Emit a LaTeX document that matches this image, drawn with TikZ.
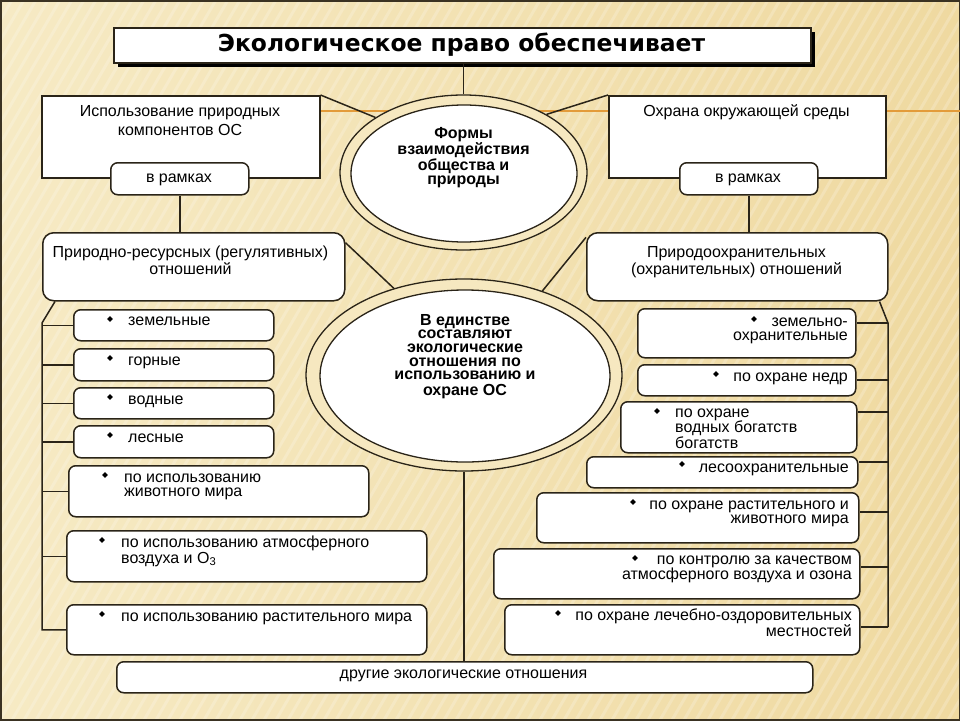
\documentclass[tikz,border=0pt]{standalone}
\usepackage{fontspec}
\setmainfont{Liberation Sans}
\newfontfamily\ttlfont{DejaVu Sans}
\usetikzlibrary{shapes.geometric,shadows,calc}
\definecolor{bgA}{HTML}{F6EAC4}
\definecolor{bgB}{HTML}{EFD9A0}
\definecolor{ringc}{HTML}{F6E8C0}
\definecolor{lc}{HTML}{2A2418}
\definecolor{orangeline}{HTML}{E39B3A}
\definecolor{framec}{HTML}{3A3222}
\newcommand\mlines[2]{\begin{tabular}[t]{@{}#1@{}}#2\end{tabular}}
\begin{document}
\begin{tikzpicture}[x=1pt,y=-1pt,
  sq/.style={draw=lc, line width=1.5pt, fill=white, inner sep=0pt, anchor=north west},
  rbox/.style={sq, rounded corners=7pt},
  bigr/.style={sq, rounded corners=11pt},
  ell/.style={ellipse, draw=lc, line width=1.3pt, inner sep=0pt},
  conn/.style={draw=lc, line width=1.5pt},
  txt/.style={inner sep=0pt, font=\fontsize{16}{14}\selectfont},
  btxt/.style={inner sep=0pt, font=\bfseries\fontsize{16}{14}\selectfont},
  bul/.style={diamond, fill=black, inner sep=0pt, minimum size=6pt}]
\useasboundingbox (0,0) rectangle (960,720);
% background
\shade[left color=bgA, right color=bgB] (0,0) rectangle (960,720);
\begin{scope}
\clip (0,0) rectangle (960,720);
\foreach \i in {-420,-408,...,960} \draw[white, opacity=0.2, line width=3pt] (\i,720) -- (\i+420,0);
\end{scope}
\draw[framec, line width=3pt] (0,0) rectangle (960,720);
\draw[orangeline, line width=2pt] (300,111) -- (960,111);

% title
\node[sq, line width=2pt, minimum width=697pt, minimum height=35pt,
  drop shadow={shadow xshift=4pt, shadow yshift=-4pt, fill=black, opacity=1}] (title) at (113,27) {};
\node[inner sep=0pt, anchor=base, font=\ttlfont\bfseries\fontsize{23.4}{24}\selectfont] (titletext) at (461.5,51) {Экологическое право обеспечивает};

% upper boxes
\node[sq, minimum width=278pt, minimum height=82pt] (lb1) at (41,95) {};
\node[sq, minimum width=277pt, minimum height=82pt] (rb1) at (608,95) {};
\node[rbox, minimum width=138pt, minimum height=32pt] (lr) at (110,162) {};
\node[rbox, minimum width=138pt, minimum height=32pt] (rr) at (679,162) {};

% ellipse 1
\node[ell, fill=ringc, minimum width=247pt, minimum height=155pt] (e1o) at (463.5,172.5) {};
\node[ell, fill=white, minimum width=226pt, minimum height=137pt] (e1i) at (464,173.5) {};

% relation boxes
\node[bigr, minimum width=302pt, minimum height=68pt] (lb2) at (42,232) {};
\node[bigr, minimum width=301pt, minimum height=68pt] (rb2) at (586,232) {};

% ellipse 2
\node[ell, fill=ringc, minimum width=316pt, minimum height=192pt] (e2o) at (464,375) {};
\node[ell, fill=white, minimum width=290pt, minimum height=172pt] (e2i) at (465,376) {};

% left items
\node[rbox, minimum width=200pt, minimum height=31pt] (li1) at (73,309) {};
\node[rbox, minimum width=200pt, minimum height=32pt] (li2) at (73,348) {};
\node[rbox, minimum width=200pt, minimum height=31pt] (li3) at (73,387) {};
\node[rbox, minimum width=200pt, minimum height=32pt] (li4) at (73,425) {};
\node[rbox, minimum width=300pt, minimum height=51pt] (li5) at (68,465) {};
\node[rbox, minimum width=360pt, minimum height=51pt] (li6) at (66,530) {};
\node[rbox, minimum width=360pt, minimum height=50pt] (li7) at (66,604) {};

% right items
\node[rbox, minimum width=218pt, minimum height=49pt] (ri1) at (637,308) {};
\node[rbox, minimum width=218pt, minimum height=31pt] (ri2) at (637,364) {};
\node[rbox, minimum width=236pt, minimum height=51pt] (ri3) at (620,401) {};
\node[rbox, minimum width=271pt, minimum height=31pt] (ri4) at (586,456) {};
\node[rbox, minimum width=322pt, minimum height=50pt] (ri5) at (536,492) {};
\node[rbox, minimum width=366pt, minimum height=50pt] (ri6) at (493,548) {};
\node[rbox, minimum width=355pt, minimum height=50pt] (ri7) at (504,604) {};

% bottom box
\node[rbox, minimum width=696pt, minimum height=31pt] (oth) at (116,661) {};

% connectors
\draw[conn] (e1o.north) -- (e1o.north |- title.south);
\draw[conn] (lb1.north east) -- (e1o.148);
\draw[conn] (rb1.north west) -- (e1o.35);
\draw[conn] (lr.south) -- (lr.south |- lb2.north);
\draw[conn] (rr.south) -- (rr.south |- rb2.north);
\draw[conn] (lb2.9) -- (e2o.129);
\draw[conn] (rb2.169) -- (e2o.47);
\draw[conn] (e2o.south) -- (e2o.south |- oth.north);

\coordinate (lbt) at (42,323);
\draw[conn] ($(lb2.south west)+(13,0)$) -- (lbt) -- (lbt |- li7.west) -- (li7.west);
\foreach \k in {1,...,6} \draw[conn] (li\k.west) -- (li\k.west -| lbt);

\coordinate (rk1) at (888,323);
\coordinate (rk2) at (888,380);
\coordinate (rk3) at (888,412);
\coordinate (rk4) at (888,462);
\coordinate (rk5) at (888,512);
\coordinate (rk6) at (888,567);
\coordinate (rk7) at (888,627);
\draw[conn] ($(rb2.south east)+(-9,0)$) -- (rk1) -- (rk7);
\foreach \k in {1,...,7} \draw[conn] (rk\k) -- (rk\k -| ri\k.east);

% texts of upper boxes
\node[txt, anchor=base, font=\fontsize{16}{19}\selectfont] (lb1t) at (180,116) {\mlines{c}{Использование природных\\компонентов ОС}};
\node[txt, anchor=base] (rb1t) at (746.5,116) {Охрана окружающей среды};
\node[txt, anchor=base] (lrt) at (179,182) {в рамках};
\node[txt, anchor=base] (rrt) at (748,182) {в рамках};
\node[txt, anchor=base, font=\fontsize{16}{17}\selectfont] (lb2t) at (190.5,257) {\mlines{c}{Природно-ресурсных (регулятивных)\\отношений}};
\node[txt, anchor=base, font=\fontsize{16}{17}\selectfont] (rb2t) at (736.5,257) {\mlines{c}{Природоохранительных\\(охранительных) отношений}};

% ellipse texts
\node[btxt, anchor=base] (e1t) at (463.5,138) {\mlines{c}{Формы\\взаимодействия\\общества и\\природы}};
\node[btxt, anchor=base, font=\bfseries\fontsize{16}{13.7}\selectfont] (e2t) at (465,325) {\mlines{c}{В единстве\\составляют\\экологические\\отношения по\\использованию и\\охране ОС}};

% left item texts
\node[bul] (bl1) at (110,319) {};
\node[txt, anchor=base west] (tl1) at (128,325) {земельные};
\node[bul] (bl2) at (110,358) {};
\node[txt, anchor=base west] (tl2) at (128,365) {горные};
\node[bul] (bl3) at (110,397) {};
\node[txt, anchor=base west] (tl3) at (128,404) {водные};
\node[bul] (bl4) at (110,435) {};
\node[txt, anchor=base west] (tl4) at (128,442) {лесные};
\node[bul] (bl5) at (105,475) {};
\node[txt, anchor=base west, font=\fontsize{16}{14.5}\selectfont] (tl5) at (124,482) {\mlines{l}{по использованию\\животного мира}};
\node[bul] (bl6) at (102,540) {};
\node[txt, anchor=base west, font=\fontsize{16}{16}\selectfont] (tl6) at (121,547) {\mlines{l}{по использованию атмосферного\\воздуха и O\textsubscript{3}}};
\node[bul] (bl7) at (102,614) {};
\node[txt, anchor=base west] (tl7) at (121,621) {по использованию растительного мира};

% right item texts
\node[bul] (br1) at (754,319) {};
\node[txt, anchor=base east, font=\fontsize{16}{14.5}\selectfont] (tr1) at (848,326) {\mlines{r}{земельно-\\охранительные}};
\node[bul] (br2) at (716,374) {};
\node[txt, anchor=base east] (tr2) at (848,381) {по охране недр};
\node[bul] (br3) at (657,411) {};
\node[txt, anchor=base west] (tr3) at (675,417) {\mlines{l}{по охране\\водных богатств\\богатств}};
\node[bul] (br4) at (682,464) {};
\node[txt, anchor=base east] (tr4) at (849,472) {лесоохранительные};
\node[bul] (br5) at (633,502) {};
\node[txt, anchor=base east] (tr5) at (849,509) {\mlines{r}{по охране растительного и\\животного мира}};
\node[bul] (br6) at (635,558) {};
\node[txt, anchor=base east] (tr6) at (852,564) {\mlines{r}{по контролю за качеством\ \\атмосферного воздуха и озона}};
\node[bul] (br7) at (558,613) {};
\node[txt, anchor=base east, font=\fontsize{16}{15}\selectfont] (tr7) at (852,620) {\mlines{r}{по охране лечебно-оздоровительных\\местностей}};

% bottom text
\node[txt, anchor=base] (otht) at (463.5,678) {другие экологические отношения};
\end{tikzpicture}
\end{document}
